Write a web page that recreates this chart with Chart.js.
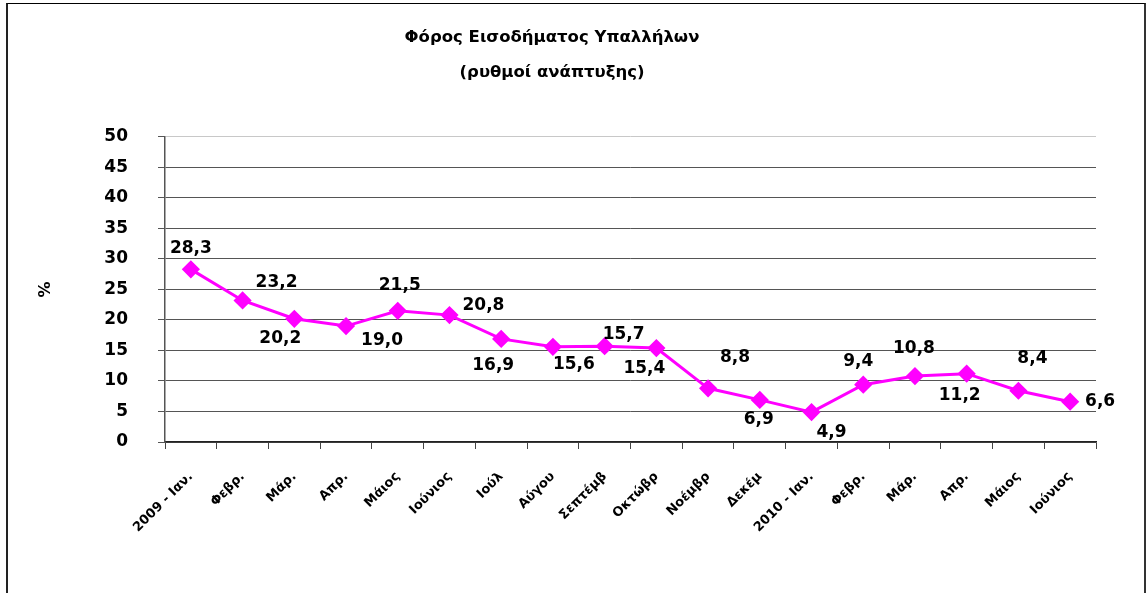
<!DOCTYPE html>
<html>
<head>
<meta charset="utf-8">
<script src="https://cdn.jsdelivr.net/npm/chart.js@4.4.1/dist/chart.umd.min.js"></script>
<style>
  body { margin: 0; background: #fff; }
  #wrap { position: relative; width: 1147px; height: 593px; }
  #frame {
    position: absolute; left: 6px; top: 3px; width: 1136px; height: 600px;
    border-left: 2px solid #222; border-top: 1px solid #000; border-right: 2px solid #333;
    pointer-events: none;
  }
</style>
</head>
<body>
<div id="wrap">
  <canvas id="chart" width="1147" height="593"></canvas>
  <div id="frame"></div>
</div>
<script>
const months = ["2009 - Ιαν.", "Φεβρ.", "Μάρ.", "Απρ.", "Μάιος", "Ιούνιος", "Ιούλ", "Αύγου", "Σεπτέμβ",
    "Οκτώβρ", "Νοέμβρ", "Δεκέμ", "2010 - Ιαν.", "Φεβρ.", "Μάρ.", "Απρ.", "Μάιος", "Ιούνιος"];
const growthRates = [28.3, 23.2, 20.2, 19.0, 21.5, 20.8, 16.9, 15.6, 15.7, 15.4, 8.8, 6.9, 4.9, 9.4, 10.8, 11.2, 8.4, 6.6];
const yTicks = [0, 5, 10, 15, 20, 25, 30, 35, 40, 45, 50];

// where each value label sits relative to its point (as placed in the original)
const labelOffsets = [
    [0, -21], [34, -18], [-14, 20], [36, 14], [2, -25], [34, -10], [-8, 27], [21, 18], [19, -12],
    [-12, 21], [27, -31], [-1, 20], [20, 20], [-5, -23], [-1, -28], [-7, 22], [14, -32], [30, 0]
];

const FONT = "'DejaVu Sans', sans-serif";

const valueLabels = {
    id: 'valueLabels',
    afterDatasetsDraw(chart) {
        const ctx = chart.ctx;
        const meta = chart.getDatasetMeta(0);
        ctx.save();
        ctx.font = "bold 17px " + FONT;
        ctx.fillStyle = '#000';
        ctx.textAlign = 'center';
        ctx.textBaseline = 'middle';
        meta.data.forEach((pt, i) => {
            const off = labelOffsets[i];
            ctx.fillText(growthRates[i].toFixed(1).replace('.', ','), pt.x + off[0], pt.y + off[1]);
        });
        ctx.restore();
    }
};

new Chart(document.getElementById('chart'), {
    type: 'line',
    data: {
        labels: months,
        datasets: [{
            data: growthRates,
            borderColor: '#ff00ff',
            backgroundColor: '#ff00ff',
            borderWidth: 3,
            pointStyle: 'rectRot',
            pointRadius: 7,
            pointHoverRadius: 7,
            tension: 0
        }]
    },
    options: {
        responsive: false,
        animation: false,
        devicePixelRatio: 1,
        layout: { padding: { left: 8, right: 51, top: 0, bottom: 0 } },
        plugins: {
            legend: { display: false },
            tooltip: { enabled: false },
            title: {
                display: true,
                text: ["Φόρος Εισοδήματος Υπαλλήλων", "(ρυθμοί ανάπτυξης)"],
                color: '#000',
                font: { family: FONT, size: 16.5, weight: 'bold', lineHeight: 2.12 },
                padding: { top: 20, bottom: 47 }
            }
        },
        scales: {
            x: {
                offset: true,
                grid: {
                    offset: true,
                    drawOnChartArea: false,
                    tickLength: 7,
                    color: '#444',
                    tickColor: '#444'
                },
                border: { color: '#222', width: 1.5 },
                ticks: {
                    autoSkip: false,
                    minRotation: 45,
                    maxRotation: 45,
                    padding: 20,
                    color: '#000',
                    font: { family: FONT, size: 13, weight: 'bold' }
                },
                afterFit(scale) { scale.height = 151; }
            },
            y: {
                min: 0,
                max: 50,
                afterBuildTicks(scale) { scale.ticks = yTicks.map(v => ({ value: v })); },
                grid: {
                    tickLength: 7,
                    color: ctx => ctx.tick && ctx.tick.value === 50 ? '#c8c8c8' : '#555',
                    tickColor: '#555'
                },
                border: { color: '#555', width: 1.5 },
                ticks: {
                    padding: 30,
                    color: '#000',
                    font: { family: FONT, size: 17, weight: 'bold' }
                },
                title: {
                    display: true,
                    text: '%',
                    color: '#000',
                    font: { family: FONT, size: 16, weight: 'bold' },
                    padding: { top: 28 }
                },
                afterFit(scale) { scale.width = 157; }
            }
        }
    },
    plugins: [valueLabels]
});
</script>
</body>
</html>
